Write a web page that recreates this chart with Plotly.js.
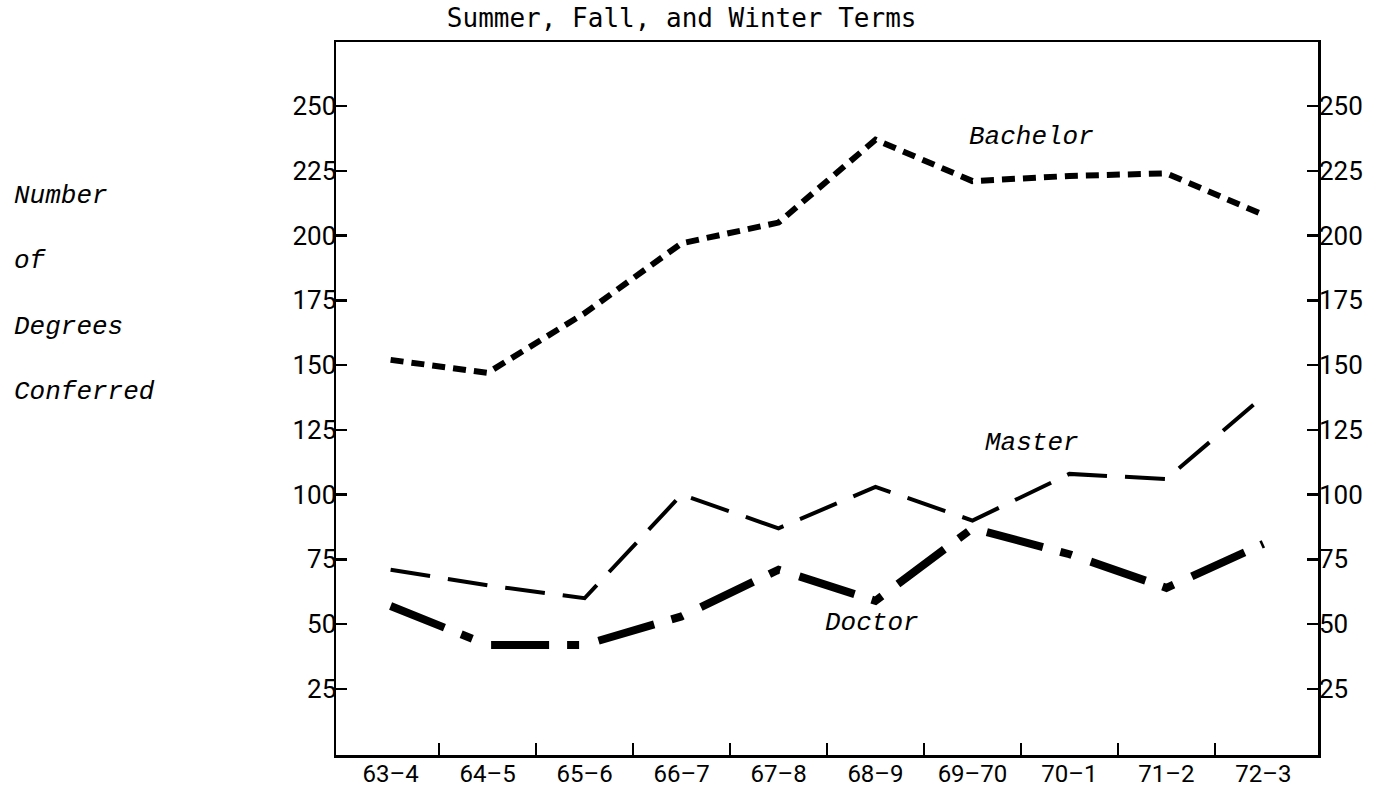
<!DOCTYPE html>
<html>
<head>
<meta charset="utf-8">
<script src="https://cdn.plot.ly/plotly-3.0.1.min.js"></script>
<style>
  html, body { margin: 0; padding: 0; background: #fff; }
  #chart { width: 1389px; height: 789px; }
</style>
</head>
<body>
<div id="chart"></div>
<script>
/** Degrees conferred chart */

  // Data
  var terms = ["63–4", "64–5", "65–6", "66–7", "67–8", "68–9", "69–70", "70–1", "71–2", "72–3"];
  var bachelor = [152, 147, 170, 197, 205, 237, 221, 223, 224, 208];
  var master = [71, 65, 60, 100, 87, 103, 90, 108, 106, 138];
  var doctor = [57, 42, 42, 53, 71, 59, 87, 77, 64, 81];
  var yTicks = [25, 50, 75, 100, 125, 150, 175, 200, 225, 250];

  var xIdx = terms.map(function (t, i) { return i; });
  var bounds = terms.slice(1).map(function (t, i) { return i + 0.5; });

  var tickFont = { family: "Roboto, 'DejaVu Sans', sans-serif", size: 26, color: "#000" };
  var typeFont = { family: "'Liberation Mono', 'DejaVu Sans Mono', monospace", size: 26, color: "#000", style: "italic" };

  // Define Data
  const chartdata = [
    {
      x: xIdx,
      y: bachelor,
      mode: "lines",
      name: "Bachelor",
      line: { color: "#000", width: 6, dash: "13px,8px" }
    },
    {
      x: xIdx,
      y: master,
      mode: "lines",
      name: "Master",
      line: { color: "#000", width: 4, dash: "40px,18px" }
    },
    {
      x: xIdx,
      y: doctor,
      mode: "lines",
      name: "Doctor",
      line: { color: "#000", width: 8, dash: "58px,18px,12px,20px" }
    },
    {
      // keeps the right-hand axis alive
      x: [],
      y: [],
      yaxis: "y2",
      showlegend: false
    }
  ];

  var yRange = [-0.5, 274.7];

  // Define Layout
  const layout = {
    width: 1389,
    height: 789,
    margin: { l: 336, r: 71, t: 42, b: 34 },
    paper_bgcolor: "#fff",
    plot_bgcolor: "#fff",
    showlegend: false,
    hovermode: false,
    title: {
      text: "Summer, Fall, and Winter Terms",
      font: { family: "'DejaVu Sans Mono', monospace", size: 26, color: "#000" },
      xref: "paper",
      x: 0.352,
      xanchor: "center",
      yref: "container",
      y: 0.977,
      yanchor: "middle"
    },
    xaxis: {
      range: [-0.563, 9.563],
      tickmode: "array",
      tickvals: xIdx,
      ticktext: terms,
      ticks: "",
      ticklen: 0,
      ticklabelstandoff: -4,
      tickfont: Object.assign({}, tickFont, { size: 24 }),
      showline: true,
      linecolor: "#000",
      linewidth: 2.5,
      mirror: true,
      showgrid: false,
      zeroline: false,
      minor: {
        tickmode: "array",
        tickvals: bounds,
        ticks: "inside",
        ticklen: 12,
        tickwidth: 2.5,
        tickcolor: "#000",
        showgrid: false
      }
    },
    yaxis: {
      range: yRange,
      tickmode: "array",
      tickvals: yTicks,
      ticks: "inside",
      ticklen: 11,
      tickwidth: 2.5,
      tickcolor: "#000",
      ticklabelstandoff: -8,
      tickfont: tickFont,
      showline: true,
      linecolor: "#000",
      linewidth: 2.5,
      mirror: "ticks",
      showgrid: false,
      zeroline: false
    },
    yaxis2: {
      overlaying: "y",
      side: "right",
      range: yRange,
      tickmode: "array",
      tickvals: yTicks,
      ticks: "",
      ticklabelstandoff: 0,
      tickfont: tickFont,
      showline: false,
      showgrid: false,
      zeroline: false
    },
    annotations: [
      { text: "Bachelor", x: 6.61, y: 238, xref: "x", yref: "y", showarrow: false, font: typeFont },
      { text: "Master", x: 6.61, y: 120, xref: "x", yref: "y", showarrow: false, font: typeFont },
      { text: "Doctor", x: 4.96, y: 50.5, xref: "x", yref: "y", showarrow: false, font: typeFont },
      { text: "Number", x: -0.33, y: 0.784, xref: "paper", yref: "paper", xanchor: "left", yanchor: "middle", showarrow: false, font: typeFont },
      { text: "of", x: -0.33, y: 0.693, xref: "paper", yref: "paper", xanchor: "left", yanchor: "middle", showarrow: false, font: typeFont },
      { text: "Degrees", x: -0.33, y: 0.600, xref: "paper", yref: "paper", xanchor: "left", yanchor: "middle", showarrow: false, font: typeFont },
      { text: "Conferred", x: -0.33, y: 0.509, xref: "paper", yref: "paper", xanchor: "left", yanchor: "middle", showarrow: false, font: typeFont }
    ]
  };

  // Define Config
  const config = {
    displayModeBar: false,
    staticPlot: true
  };

  Plotly.newPlot("chart", chartdata, layout, config);
</script>
</body>
</html>
